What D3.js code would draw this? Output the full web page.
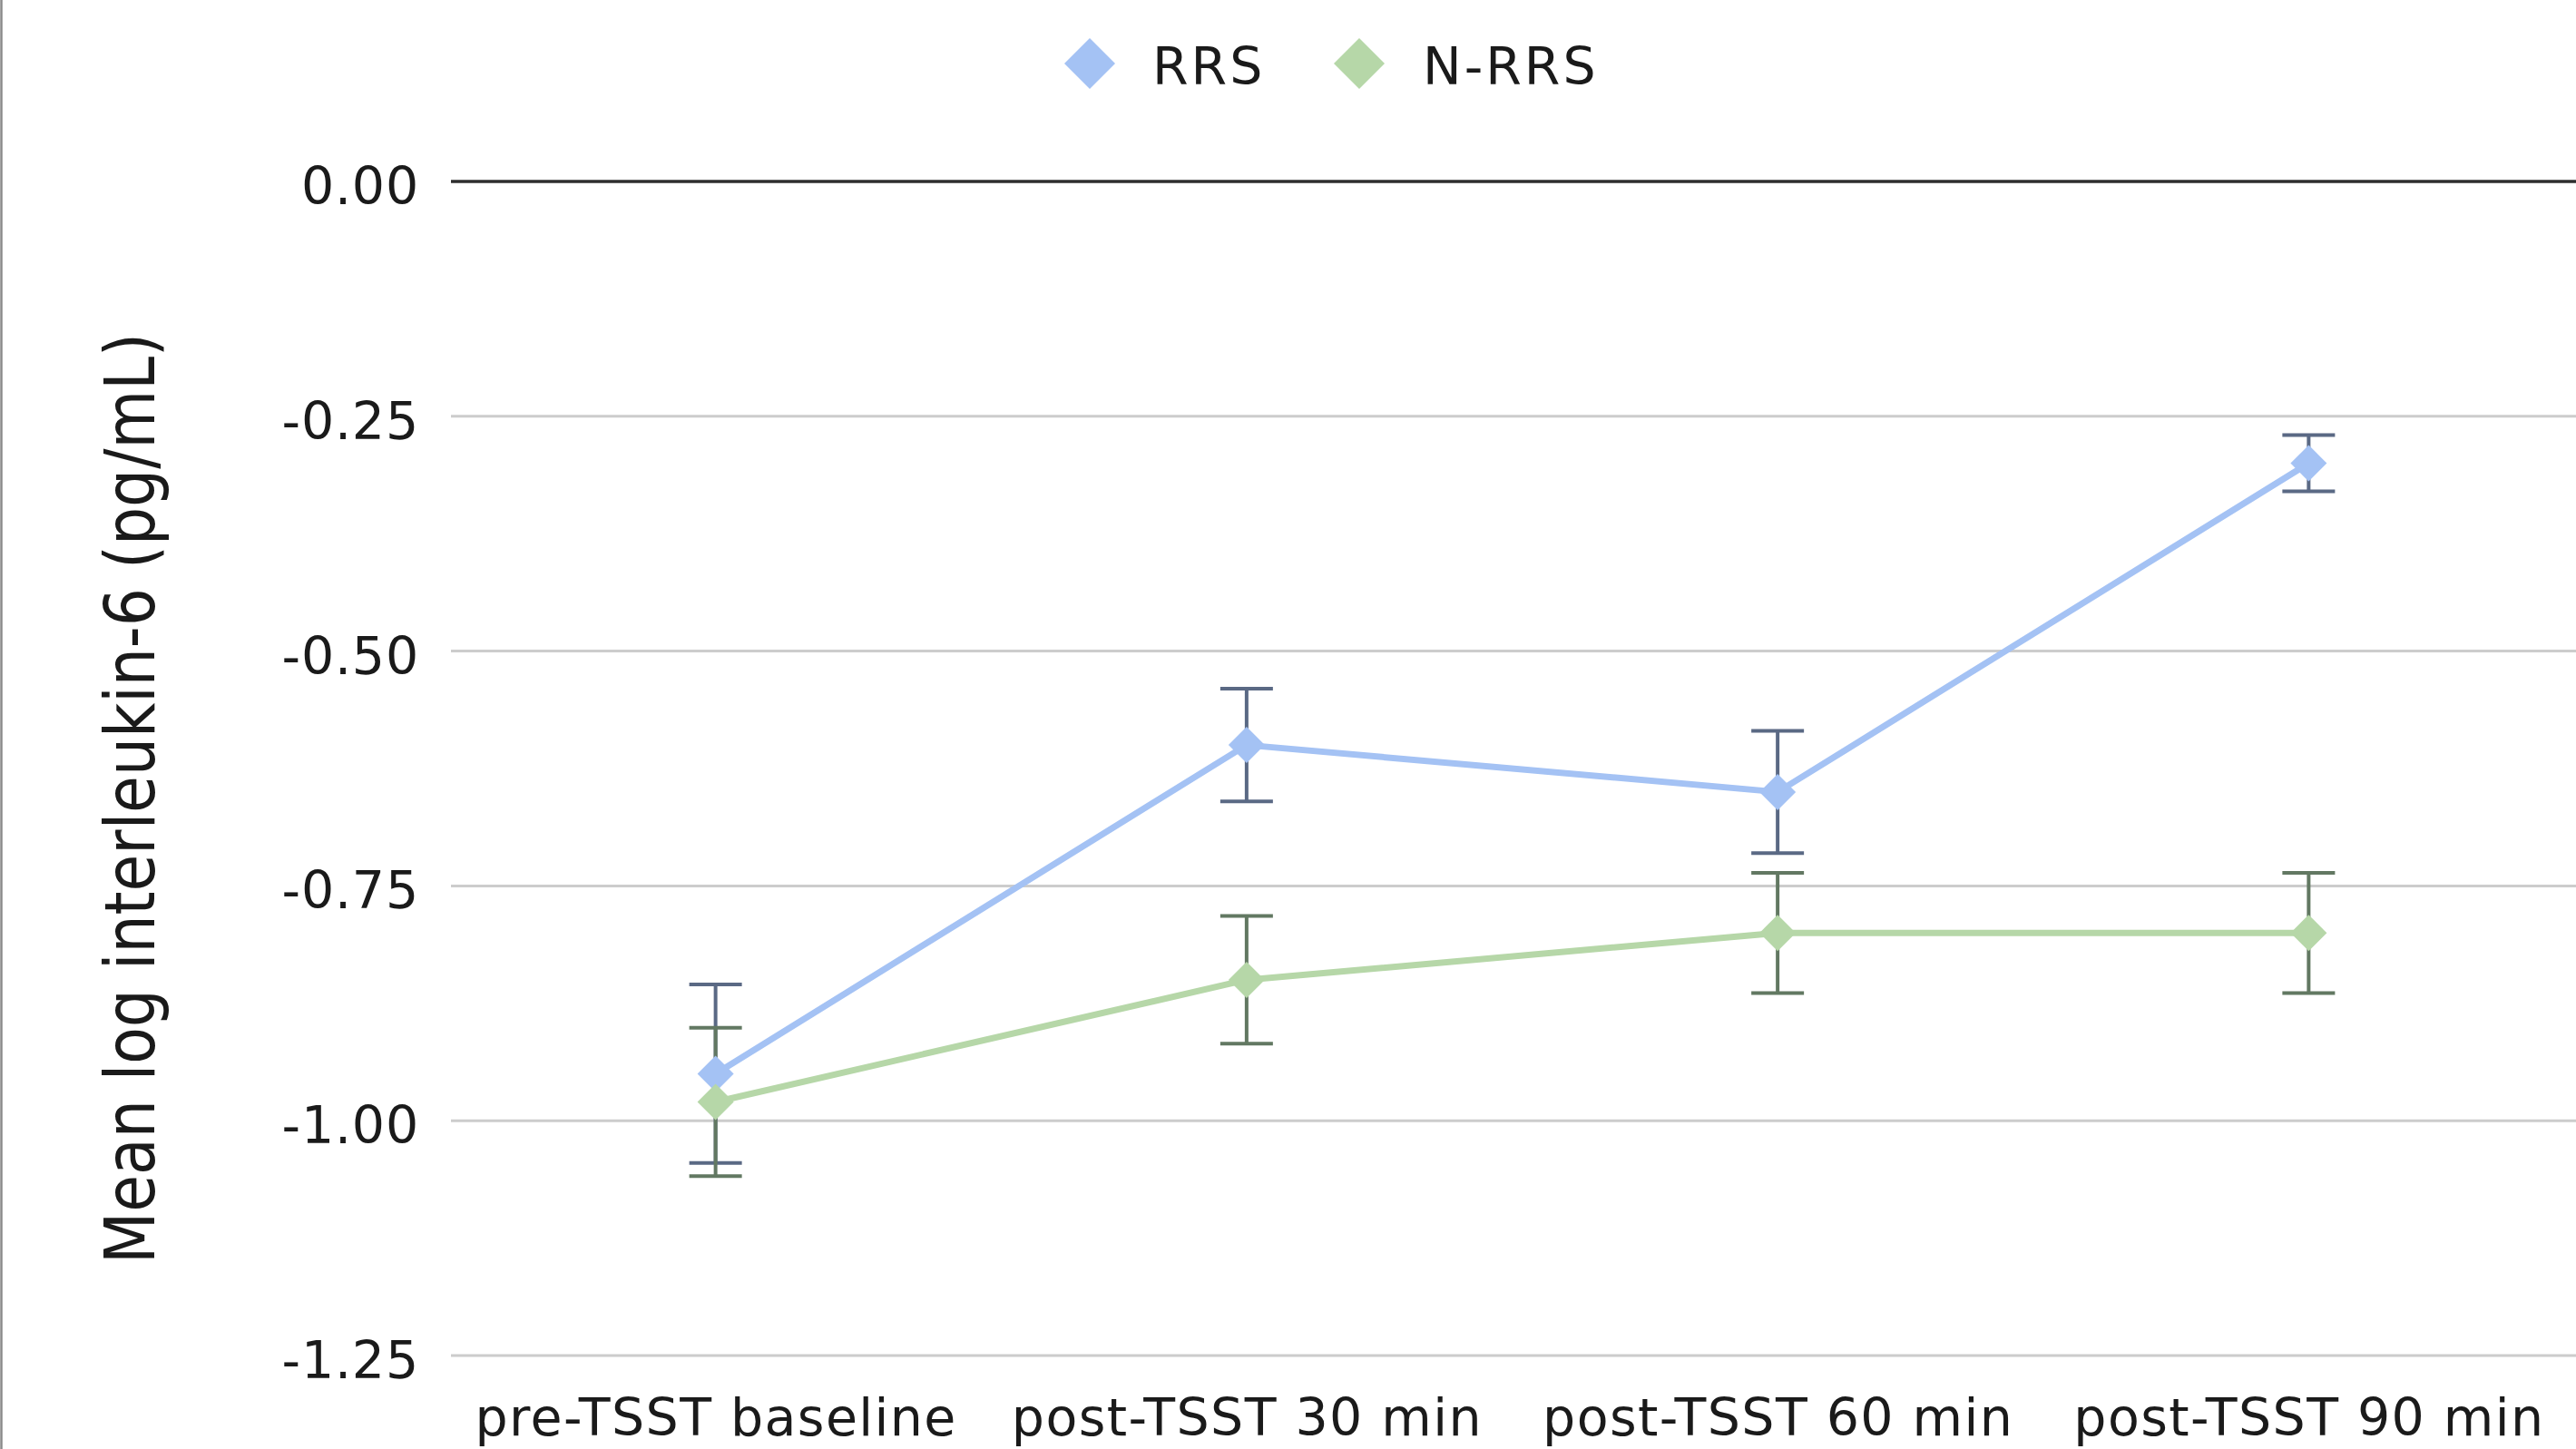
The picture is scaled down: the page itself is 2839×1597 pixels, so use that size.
<!DOCTYPE html>
<html>
<head>
<meta charset="utf-8">
<script src="https://cdn.jsdelivr.net/npm/d3@7"></script>
<style>
  html, body { margin: 0; padding: 0; background: #ffffff; }
  svg { display: block; }
  text { font-family: "DejaVu Sans", Verdana, sans-serif; fill: #1a1a1a; }
</style>
</head>
<body>
<svg id="chart" width="2839" height="1597"></svg>
<script>
// ---- data ----
const categories = ["pre-TSST baseline", "post-TSST 30 min", "post-TSST 60 min", "post-TSST 90 min"];
const seriesNames = ["RRS", "N-RRS"];
const rrsMeans = [-0.95, -0.60, -0.65, -0.30];
const rrsErrors = [0.095, 0.06, 0.065, 0.03];
const nrrsMeans = [-0.98, -0.85, -0.80, -0.80];
const nrrsErrors = [0.079, 0.068, 0.064, 0.064];
const yTicks = [0, -0.25, -0.5, -0.75, -1.0, -1.25];
const yTitle = "Mean log interleukin-6 (pg/mL)";

// ---- layout ----
const W = 2839, H = 1597;
const plotLeft = 497, plotRight = 2839, plotTop = 200, plotBottom = 1494;

const svg = d3.select("#chart");
svg.append("rect").attr("width", W).attr("height", H).attr("fill", "#ffffff");
svg.append("line").attr("x1", 1.5).attr("x2", 1.5).attr("y1", 0).attr("y2", H)
  .attr("stroke", "#8a8a8a").attr("stroke-width", 2.5);

const x = d3.scalePoint().domain(categories).range([496, 2837]).padding(0.5);
const y = d3.scaleLinear().domain([-1.25, 0]).range([plotBottom, plotTop]);

const locale = d3.formatLocale({decimal: ".", thousands: ",", grouping: [3], currency: ["", ""], minus: "-"});
const fmt = locale.format(".2f");

// gridlines
const grid = svg.append("g");
grid.selectAll("line").data(yTicks).join("line")
  .attr("x1", plotLeft).attr("x2", plotRight)
  .attr("y1", d => y(d)).attr("y2", d => y(d))
  .attr("stroke", d => d === 0 ? "#2e2e2e" : "#cccccc")
  .attr("stroke-width", d => d === 0 ? 3.5 : 3);

// y axis labels
const yAxis = svg.append("g").attr("transform", `translate(${plotLeft},0)`)
  .call(d3.axisLeft(y).tickValues(yTicks).tickFormat(fmt).tickSize(0).tickPadding(35));
yAxis.select(".domain").remove();
yAxis.selectAll("text").attr("font-size", 57).attr("font-family", "DejaVu Sans, Verdana, sans-serif")
  .attr("fill", "#1a1a1a").attr("dy", "0.43em").attr("letter-spacing", 0.8);

// x axis labels
const xAxis = svg.append("g").attr("transform", `translate(0,${plotBottom})`)
  .call(d3.axisBottom(x).tickSize(0));
xAxis.select(".domain").remove();
xAxis.selectAll("text").attr("font-size", 57).attr("font-family", "DejaVu Sans, Verdana, sans-serif")
  .attr("fill", "#1a1a1a").attr("y", 88).attr("dy", 0).attr("letter-spacing", 1.4);

// y title
svg.append("text")
  .attr("transform", `translate(170,880) rotate(-90)`)
  .attr("text-anchor", "middle")
  .attr("font-size", 77)
  .attr("textLength", 1026)
  .attr("lengthAdjust", "spacingAndGlyphs")
  .text(yTitle);

// series
const series = [
  {name: seriesNames[0], means: rrsMeans, errs: rrsErrors, color: "#a4c2f4", errColor: "#5a6984"},
  {name: seriesNames[1], means: nrrsMeans, errs: nrrsErrors, color: "#b6d7a8", errColor: "#627862"}
];
const capHalf = 29;
const diamond = r => `M0,${-r}L${r},0L0,${r}L${-r},0Z`;

// error bars
series.forEach(s => {
  const g = svg.append("g").attr("stroke", s.errColor).attr("stroke-width", 4).attr("fill", "none");
  categories.forEach((c, i) => {
    const cx = x(c), hi = y(s.means[i] + s.errs[i]), lo = y(s.means[i] - s.errs[i]);
    g.append("line").attr("x1", cx).attr("x2", cx).attr("y1", hi).attr("y2", lo);
    g.append("line").attr("x1", cx - capHalf).attr("x2", cx + capHalf).attr("y1", hi).attr("y2", hi);
    g.append("line").attr("x1", cx - capHalf).attr("x2", cx + capHalf).attr("y1", lo).attr("y2", lo);
  });
});

// lines + markers
const line = d3.line().x(d => x(d.c)).y(d => y(d.v));
series.forEach(s => {
  const pts = categories.map((c, i) => ({c, v: s.means[i]}));
  svg.append("path").datum(pts).attr("d", line)
    .attr("fill", "none").attr("stroke", s.color).attr("stroke-width", 7)
    .attr("stroke-linejoin", "round");
  svg.append("g").selectAll("path").data(pts).join("path")
    .attr("transform", d => `translate(${x(d.c)},${y(d.v)})`)
    .attr("d", diamond(20)).attr("fill", s.color);
});

// legend
const legend = svg.append("g");
const legendItems = [
  {name: seriesNames[0], color: series[0].color, cx: 1201, tx: 1270},
  {name: seriesNames[1], color: series[1].color, cx: 1498, tx: 1568}
];
legendItems.forEach(it => {
  legend.append("path").attr("transform", `translate(${it.cx},70)`).attr("d", diamond(28)).attr("fill", it.color);
  legend.append("text").attr("x", it.tx).attr("y", 93).attr("font-size", 57)
    .attr("letter-spacing", 3).text(it.name);
});
</script>
</body>
</html>
